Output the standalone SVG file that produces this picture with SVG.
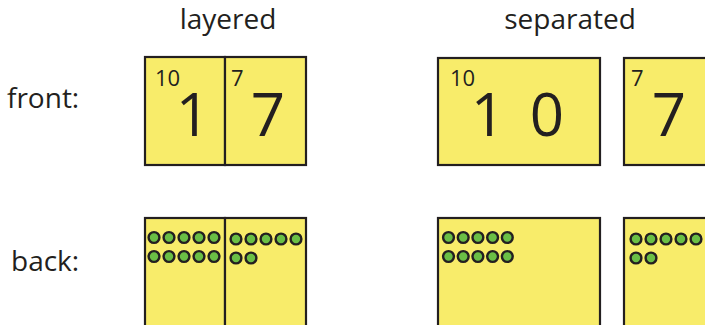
<svg xmlns="http://www.w3.org/2000/svg" width="705" height="325" viewBox="0 0 705 325">
<style>
.card{fill:#f8ec6a;stroke:#231f20;stroke-width:2.2}
.lbl{font-family:"Open Sans",sans-serif;font-size:28px;fill:#231f20}
.sm{font-family:"Open Sans",sans-serif;font-size:22px;fill:#231f20}
.big{font-family:"Open Sans",sans-serif;font-size:60px;fill:#231f20;text-anchor:middle}
.dot{fill:#6abf45;stroke:#231f20;stroke-width:2.4}
</style>
<defs>
<circle id="d" r="5.4" class="dot"/>
</defs>
<g id="labels">
<text class="lbl" x="228" y="29" text-anchor="middle">layered</text>
<text class="lbl" x="570" y="29" text-anchor="middle">separated</text>
<text class="lbl" x="7" y="108">front:</text>
<text class="lbl" x="11" y="271">back:</text>
</g>
<g id="layered-front">
<rect class="card" x="145" y="57" width="80" height="108"/>
<rect class="card" x="225" y="57" width="81" height="108"/>
<text class="sm" x="155" y="86">10</text>
<text class="big" x="193" y="136">1</text>
<text class="sm" x="231" y="86">7</text>
<text class="big" x="268" y="136">7</text>
</g>
<g id="separated-front">
<rect class="card" x="438" y="58" width="162" height="107"/>
<rect class="card" x="624" y="58" width="90" height="107"/>
<text class="sm" x="450" y="86">10</text>
<text class="big" y="136"><tspan x="488">1</tspan><tspan x="547">0</tspan></text>
<text class="sm" x="631" y="86">7</text>
<text class="big" x="669" y="136">7</text>
</g>
<g id="layered-back">
<rect class="card" x="145" y="218" width="80" height="115"/>
<rect class="card" x="225" y="218" width="81" height="115"/>
<use href="#d" x="154" y="237.5"/><use href="#d" x="169" y="237.5"/><use href="#d" x="184" y="237.5"/><use href="#d" x="199" y="237.5"/><use href="#d" x="214" y="237.5"/>
<use href="#d" x="154" y="256.5"/><use href="#d" x="169" y="256.5"/><use href="#d" x="184" y="256.5"/><use href="#d" x="199" y="256.5"/><use href="#d" x="214" y="256.5"/>
<use href="#d" x="236" y="239"/><use href="#d" x="251" y="239"/><use href="#d" x="266" y="239"/><use href="#d" x="281" y="239"/><use href="#d" x="296" y="239"/>
<use href="#d" x="236" y="258"/><use href="#d" x="251" y="258"/>
</g>
<g id="separated-back">
<rect class="card" x="438" y="218" width="162" height="115"/>
<rect class="card" x="624" y="218" width="90" height="115"/>
<use href="#d" x="448.5" y="237.5"/><use href="#d" x="463.2" y="237.5"/><use href="#d" x="477.9" y="237.5"/><use href="#d" x="492.6" y="237.5"/><use href="#d" x="507.3" y="237.5"/>
<use href="#d" x="448.5" y="256.5"/><use href="#d" x="463.2" y="256.5"/><use href="#d" x="477.9" y="256.5"/><use href="#d" x="492.6" y="256.5"/><use href="#d" x="507.3" y="256.5"/>
<use href="#d" x="636" y="239"/><use href="#d" x="651" y="239"/><use href="#d" x="666" y="239"/><use href="#d" x="681" y="239"/><use href="#d" x="696" y="239"/>
<use href="#d" x="636" y="258"/><use href="#d" x="651" y="258"/>
</g>
<g id="connectors"/>
</svg>
